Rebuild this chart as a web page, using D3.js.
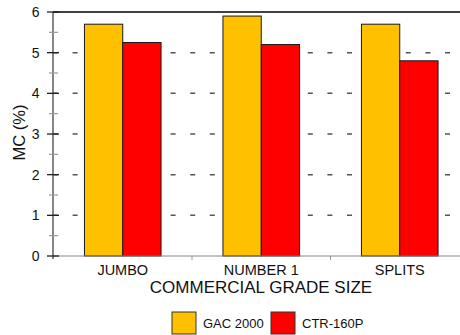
<!DOCTYPE html>
<html><head><meta charset="utf-8">
<script src="https://cdn.jsdelivr.net/npm/d3@7"></script>
<style>body{margin:0;background:#fff;} svg{display:block;font-family:Arial,"Liberation Sans",sans-serif;}</style>
</head><body>
<script>
const categories = ["JUMBO", "NUMBER 1", "SPLITS"];
const seriesNames = ["GAC 2000", "CTR-160P"];
const gacValues = [5.7, 5.9, 5.7];
const ctrValues = [5.25, 5.2, 4.8];
const yTicks = [0, 1, 2, 3, 4, 5, 6];
const yMinorTicks = [0.5, 1.5, 2.5, 3.5, 4.5, 5.5];
const colors = ["#FFC000", "#FF0000"];

(function () {
const W = 460, H = 335;
const svg = d3.select("body").append("svg").attr("width", W).attr("height", H);

const plotLeft = 53, plotTop = 12, plotBottom = 256;
const x0 = d3.scaleBand().domain(categories).range([53.5, 469]).paddingInner(0).paddingOuter(0);
const x1 = d3.scaleBand().domain(seriesNames).range([0, x0.bandwidth()]).paddingInner(0).paddingOuter(0.808);
const y = d3.scaleLinear().domain([0, 6]).range([plotBottom, plotTop]);

// dashed grid
svg.append("g").selectAll("line").data(yTicks.filter(d => d > 0 && d < 6)).join("line")
  .attr("x1", plotLeft).attr("x2", W).attr("y1", d => y(d)).attr("y2", d => y(d))
  .attr("stroke", "#555").attr("stroke-width", 1.5).attr("stroke-dasharray", "5 14.6");

// top line
svg.append("line").attr("x1", plotLeft).attr("x2", W).attr("y1", y(6)).attr("y2", y(6))
  .attr("stroke", "#000").attr("stroke-width", 1.3);

// bars
const data = categories.map((c, i) => ({ cat: c, vals: [gacValues[i], ctrValues[i]] }));
const g = svg.append("g").selectAll("g").data(data).join("g")
  .attr("transform", d => `translate(${x0(d.cat)},0)`);
g.selectAll("rect").data(d => d.vals.map((v, j) => ({ s: seriesNames[j], v, j }))).join("rect")
  .attr("x", d => x1(d.s)).attr("width", x1.bandwidth())
  .attr("y", d => y(d.v)).attr("height", d => y(0) - y(d.v))
  .attr("fill", d => colors[d.j]).attr("stroke", "#1a1a1a").attr("stroke-width", 1);

// x axis
svg.append("line").attr("x1", plotLeft).attr("x2", W).attr("y1", plotBottom).attr("y2", plotBottom)
  .attr("stroke", "#888").attr("stroke-width", 1.2);
svg.append("g").selectAll("line").data(categories.slice(1)).join("line")
  .attr("x1", d => x0(d)).attr("x2", d => x0(d)).attr("y1", plotBottom).attr("y2", plotBottom + 4)
  .attr("stroke", "#999").attr("stroke-width", 1);
svg.append("g").selectAll("text").data(categories).join("text")
  .attr("x", d => x0(d) + x0.bandwidth() / 2).attr("y", 275)
  .attr("text-anchor", "middle").attr("font-size", 14.5).attr("fill", "#111").text(d => d);
svg.append("text").attr("x", 261).attr("y", 293).attr("text-anchor", "middle")
  .attr("font-size", 17).attr("fill", "#111").text("COMMERCIAL GRADE SIZE");

// y axis
svg.append("line").attr("x1", plotLeft).attr("x2", plotLeft).attr("y1", plotTop).attr("y2", plotBottom + 3)
  .attr("stroke", "#444").attr("stroke-width", 1.3);
svg.append("g").selectAll("line").data(yMinorTicks).join("line")
  .attr("x1", 49).attr("x2", 58).attr("y1", d => y(d)).attr("y2", d => y(d))
  .attr("stroke", "#999").attr("stroke-width", 1.2);
svg.append("g").selectAll("line").data(yTicks).join("line")
  .attr("x1", 47).attr("x2", 59).attr("y1", d => y(d)).attr("y2", d => y(d))
  .attr("stroke", "#222").attr("stroke-width", 1.3);
svg.append("g").selectAll("text").data(yTicks).join("text")
  .attr("x", 39.5).attr("y", d => y(d)).attr("dy", "0.36em")
  .attr("text-anchor", "end").attr("font-size", 14).attr("fill", "#111").text(d => d);
svg.append("text").attr("transform", "translate(25,132.5) rotate(-90)")
  .attr("text-anchor", "middle").attr("font-size", 16.5).attr("fill", "#111").text("MC (%)");

// legend
const legX = [172, 271];
const lg = svg.append("g").selectAll("g").data(seriesNames).join("g")
  .attr("transform", (d, i) => `translate(${legX[i]},312)`);
lg.append("rect").attr("width", 24).attr("height", 22)
  .attr("fill", (d, i) => colors[i]).attr("stroke", "#333").attr("stroke-width", 1);
lg.append("text").attr("x", 31).attr("y", 11).attr("dy", "0.36em")
  .attr("font-size", 13).attr("fill", "#111").text(d => d);
})();
</script>
</body></html>
